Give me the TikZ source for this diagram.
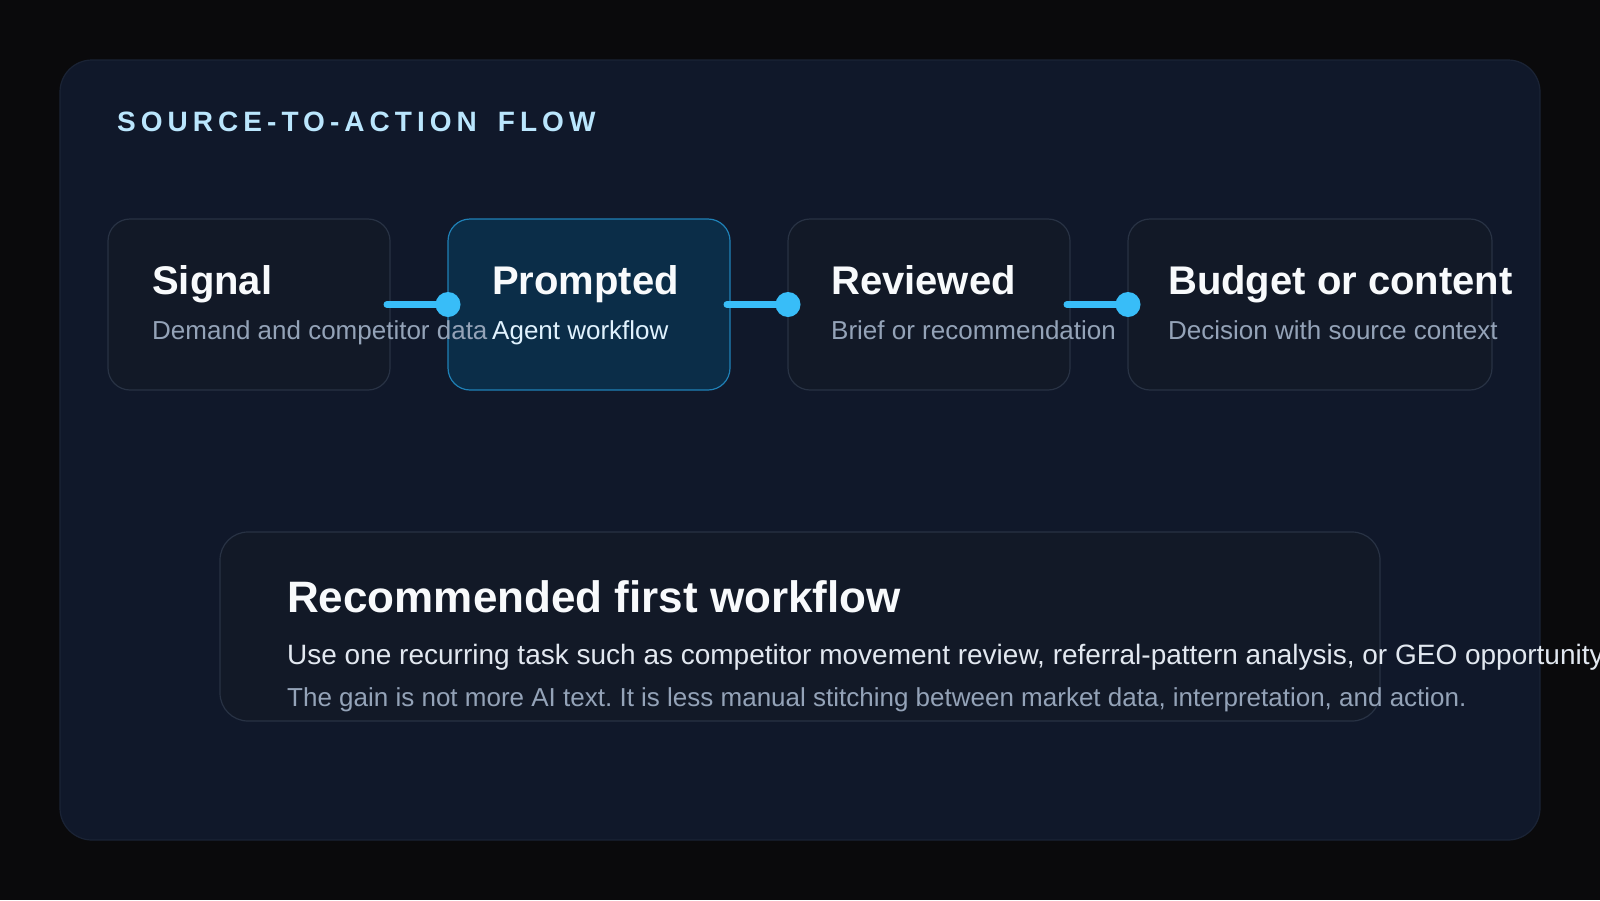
\documentclass[tikz,border=0pt]{standalone}
\usepackage{fontspec}
\setmainfont{Liberation Sans}
\newfontfamily\trackfont[LetterSpace=18]{Liberation Sans}
\frenchspacing
\definecolor{bgc}{HTML}{0A0A0C}
\definecolor{panelfill}{HTML}{10182A}
\definecolor{panelline}{HTML}{1A2335}
\definecolor{cardfill}{HTML}{121927}
\definecolor{cardline}{HTML}{283244}
\definecolor{activefill}{HTML}{0B2D48}
\definecolor{activeline}{HTML}{1F80B6}
\definecolor{accent}{HTML}{38BDF8}
\definecolor{kicker}{HTML}{BAE6FD}
\definecolor{titlewhite}{HTML}{F8FAFC}
\definecolor{subgrey}{HTML}{94A3B8}
\definecolor{activesub}{HTML}{E0F2FE}
\definecolor{bodylight}{HTML}{E2E8F0}
\begin{document}
\begin{tikzpicture}[x=1pt,y=-1pt,
  panelbox/.style={draw=panelline, fill=panelfill, line width=1.2pt, rounded corners=32pt,
    minimum width=1480pt, minimum height=780pt, anchor=north west, inner sep=0pt, outer sep=0pt},
  cardbox/.style={draw=cardline, fill=cardfill, line width=1.2pt, rounded corners=22pt,
    minimum height=171pt, anchor=north west, inner sep=0pt, outer sep=0pt},
  activebox/.style={cardbox, draw=activeline, fill=activefill},
  notebox/.style={draw=cardline, fill=cardfill, line width=1.2pt, rounded corners=28pt,
    minimum width=1160pt, minimum height=189pt, anchor=north west, inner sep=0pt, outer sep=0pt},
  kickertext/.style={anchor=base west, inner sep=0pt, text=kicker, font=\trackfont\bfseries\fontsize{28}{34}\selectfont},
  cardtitle/.style={anchor=base west, inner sep=0pt, text=titlewhite, font=\fontsize{40}{48}\selectfont\bfseries},
  cardsub/.style={anchor=base west, inner sep=0pt, text=subgrey, font=\fontsize{26}{31}\selectfont},
  bigtitle/.style={anchor=base west, inner sep=0pt, text=titlewhite, font=\fontsize{44}{52}\selectfont\bfseries},
  bodyline/.style={anchor=base west, inner sep=0pt, text=bodylight, font=\fontsize{28}{34}\selectfont},
  noteline/.style={anchor=base west, inner sep=0pt, text=subgrey, font=\fontsize{26}{31}\selectfont},
  connline/.style={draw=accent, line width=7pt, line cap=round},
  conndot/.style={circle, fill=accent, minimum size=25pt, inner sep=0pt, outer sep=0pt}
]
\useasboundingbox (0,0) rectangle (1600,900);
\clip (0,0) rectangle (1600,900);
\fill[bgc] (0,0) rectangle (1600,900);

\node[panelbox] (panel) at (60,60) {};
\node[kickertext] (kick) at (117,131) {SOURCE-TO-ACTION\hspace{21pt}FLOW};

% cards
\node[cardbox, minimum width=282pt] (c1) at (108,219) {};
\node[activebox, minimum width=282pt] (c2) at (448,219) {};
\node[cardbox, minimum width=282pt] (c3) at (788,219) {};
\node[cardbox, minimum width=364pt] (c4) at (1128,219) {};

% card texts
\node[cardtitle] (t1) at (152,294) {Signal};
\node[cardsub] (s1) at (152,339) {Demand and competitor data};
\node[cardtitle] (t2) at (492,294) {Prompted};
\node[cardsub, text=activesub] (s2) at (492,339) {Agent workflow};
\node[cardtitle] (t3) at (831,294) {Reviewed};
\node[cardsub] (s3) at (831,339) {Brief or recommendation};
\node[cardtitle] (t4) at (1168,294) {Budget or content};
\node[cardsub] (s4) at (1168,339) {Decision with source context};

% connectors
\draw[connline] ([xshift=-3pt]c1.east) -- (c2.west);
\draw[connline] ([xshift=-3pt]c2.east) -- (c3.west);
\draw[connline] ([xshift=-3pt]c3.east) -- (c4.west);
\node[conndot] (d2) at (c2.west) {};
\node[conndot] (d3) at (c3.west) {};
\node[conndot] (d4) at (c4.west) {};

% recommendation box
\node[notebox] (note) at (220,532) {};
\node[bigtitle] (nt) at (287,612) {Recommended first workflow};
\node[bodyline] (n1) at (287,664) {Use one recurring task such as competitor movement review, referral-pattern analysis, or GEO opportunity};
\node[noteline] (n2) at (287,706) {The gain is not more AI text. It is less manual stitching between market data, interpretation, and action.};
\end{tikzpicture}
\end{document}
